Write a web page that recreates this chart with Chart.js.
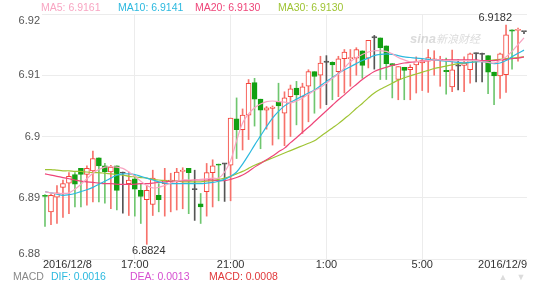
<!DOCTYPE html>
<html>
<head>
<meta charset="utf-8">
<script src="https://cdn.jsdelivr.net/npm/chart.js@4.4.0/dist/chart.umd.min.js"></script>
<style>
  html, body { margin: 0; padding: 0; background: #fff; }
  #wrap { position: relative; width: 550px; height: 284px; }
</style>
</head>
<body>
<div id="wrap"><canvas id="klineCanvas"></canvas></div>
<script>
// ==================== USD/CNY 15min K-line, 2016/12/8 -> 2016/12/9 ====================
const opens = [
    6.8904, 6.8877, 6.8901, 6.8917, 6.8924, 6.8938, 6.8948, 6.8938, 6.8944, 6.8965,
    6.8952, 6.8942, 6.8952, 6.8940, 6.8923, 6.8931, 6.8912, 6.8897, 6.8889, 6.8904,
    6.8923, 6.8927, 6.8926, 6.8943, 6.8948, 6.8913, 6.8890, 6.8910, 6.8941, 6.8955,
    6.8955, 6.8953, 6.9029, 6.9011, 6.9035, 6.9088, 6.9061, 6.9043, 6.9046, 6.9056,
    6.9038, 6.9065, 6.9079, 6.9065, 6.9082, 6.9106, 6.9100, 6.9121, 6.9121, 6.9106,
    6.9127, 6.9127, 6.9128, 6.9140, 6.9128, 6.9161, 6.9161, 6.9148, 6.9119, 6.9093,
    6.9113, 6.9109, 6.9117, 6.9120, 6.9123, 6.9125, 6.9124, 6.9107, 6.9081, 6.9115,
    6.9116, 6.9109, 6.9135, 6.9134, 6.9132, 6.9105, 6.9099, 6.9101, 6.9174, 6.9173, 6.9171
];
const highs = [
    6.8905, 6.8906, 6.8920, 6.8929, 6.8941, 6.8941, 6.8948, 6.8952, 6.8976, 6.8965,
    6.8956, 6.8953, 6.8952, 6.8942, 6.8942, 6.8937, 6.8922, 6.8920, 6.8945, 6.8923,
    6.8948, 6.8940, 6.8948, 6.8949, 6.8948, 6.8945, 6.8907, 6.8956, 6.8962, 6.8955,
    6.8956, 6.9030, 6.9063, 6.9045, 6.9093, 6.9095, 6.9061, 6.9049, 6.9050, 6.9087,
    6.9073, 6.9084, 6.9090, 6.9087, 6.9109, 6.9106, 6.9131, 6.9132, 6.9122, 6.9131,
    6.9142, 6.9142, 6.9145, 6.9140, 6.9157, 6.9165, 6.9161, 6.9148, 6.9119, 6.9114,
    6.9113, 6.9117, 6.9130, 6.9127, 6.9142, 6.9140, 6.9131, 6.9128, 6.9141, 6.9125,
    6.9130, 6.9136, 6.9136, 6.9136, 6.9132, 6.9105, 6.9136, 6.9182, 6.9174, 6.9177, 6.9171
];
const lows = [
    6.8853, 6.8856, 6.8858, 6.8868, 6.8874, 6.8885, 6.8885, 6.8888, 6.8893, 6.8893,
    6.8891, 6.8882, 6.8880, 6.8875, 6.8871, 6.8870, 6.8858, 6.8824, 6.8871, 6.8877,
    6.8870, 6.8877, 6.8880, 6.8882, 6.8874, 6.8863, 6.8858, 6.8870, 6.8885, 6.8895,
    6.8894, 6.8895, 6.8964, 6.8978, 6.8995, 6.9017, 6.8980, 6.9012, 6.8986, 6.8996,
    6.8985, 6.9000, 6.9019, 6.9005, 6.9024, 6.9038, 6.9046, 6.9052, 6.9060, 6.9065,
    6.9071, 6.9082, 6.9100, 6.9095, 6.9112, 6.9110, 6.9093, 6.9093, 6.9063, 6.9060,
    6.9060, 6.9060, 6.9071, 6.9075, 6.9072, 6.9100, 6.9082, 6.9069, 6.9073, 6.9076,
    6.9073, 6.9087, 6.9089, 6.9089, 6.9070, 6.9052, 6.9062, 6.9072, 6.9110, 6.9123, 6.9168
];
const closes = [
    6.8902, 6.8904, 6.8908, 6.8923, 6.8935, 6.8922, 6.8938, 6.8948, 6.8964, 6.8952,
    6.8942, 6.8950, 6.8912, 6.8940, 6.8929, 6.8914, 6.8902, 6.8912, 6.8932, 6.8897,
    6.8929, 6.8929, 6.8942, 6.8945, 6.8941, 6.8913, 6.8885, 6.8941, 6.8952, 6.8953,
    6.8955, 6.9030, 6.9011, 6.9035, 6.9087, 6.9061, 6.9043, 6.9047, 6.9048, 6.9050,
    6.9063, 6.9078, 6.9068, 6.9081, 6.9106, 6.9098, 6.9120, 6.9121, 6.9117, 6.9127,
    6.9138, 6.9129, 6.9142, 6.9116, 6.9157, 6.9161, 6.9145, 6.9119, 6.9116, 6.9114,
    6.9108, 6.9113, 6.9123, 6.9124, 6.9129, 6.9127, 6.9126, 6.9106, 6.9109, 6.9115,
    6.9120, 6.9135, 6.9135, 6.9134, 6.9105, 6.9099, 6.9135, 6.9166, 6.9172, 6.9175, 6.9171
];

// moving averages as drawn on the chart
const ma5 = [
    6.8910, 6.8908, 6.8907, 6.8907, 6.8908, 6.8914, 6.8922, 6.8931, 6.8940, 6.8946,
    6.8950, 6.8951, 6.8950, 6.8948, 6.8942, 6.8935, 6.8927, 6.8920, 6.8916, 6.8917,
    6.8920, 6.8924, 6.8927, 6.8929, 6.8929, 6.8929, 6.8930, 6.8931, 6.8932, 6.8932,
    6.8942, 6.8961, 6.8993, 6.9022, 6.9037, 6.9047, 6.9053, 6.9057, 6.9058, 6.9057,
    6.9056, 6.9055, 6.9058, 6.9063, 6.9069, 6.9075, 6.9080, 6.9087, 6.9095, 6.9102,
    6.9112, 6.9122, 6.9129, 6.9134, 6.9138, 6.9140, 6.9140, 6.9139, 6.9135, 6.9129,
    6.9125, 6.9122, 6.9122, 6.9123, 6.9124, 6.9125, 6.9125, 6.9124, 6.9124, 6.9124,
    6.9124, 6.9124, 6.9124, 6.9122, 6.9121, 6.9120, 6.9124, 6.9130, 6.9139, 6.9150, 6.9161
];
const ma10 = [
    6.8910, 6.8908, 6.8906, 6.8904, 6.8905, 6.8907, 6.8910, 6.8913, 6.8917, 6.8922,
    6.8927, 6.8932, 6.8937, 6.8939, 6.8939, 6.8938, 6.8935, 6.8932, 6.8929, 6.8926,
    6.8924, 6.8923, 6.8923, 6.8923, 6.8923, 6.8923, 6.8923, 6.8924, 6.8925, 6.8927,
    6.8930, 6.8935, 6.8942, 6.8955, 6.8970, 6.8986, 6.9001, 6.9016, 6.9030, 6.9041,
    6.9050, 6.9056, 6.9061, 6.9066, 6.9071, 6.9076, 6.9083, 6.9090, 6.9096, 6.9103,
    6.9109, 6.9114, 6.9119, 6.9124, 6.9128, 6.9132, 6.9134, 6.9135, 6.9134, 6.9132,
    6.9130, 6.9129, 6.9128, 6.9127, 6.9126, 6.9125, 6.9124, 6.9123, 6.9122, 6.9121,
    6.9120, 6.9121, 6.9122, 6.9122, 6.9121, 6.9119, 6.9120, 6.9124, 6.9130, 6.9136, 6.9141
];
const ma20 = [
    6.8939, 6.8937, 6.8935, 6.8933, 6.8931, 6.8929, 6.8927, 6.8926, 6.8925, 6.8924,
    6.8923, 6.8923, 6.8922, 6.8922, 6.8922, 6.8922, 6.8923, 6.8923, 6.8924, 6.8925,
    6.8926, 6.8927, 6.8927, 6.8928, 6.8928, 6.8929, 6.8929, 6.8929, 6.8929, 6.8928,
    6.8928, 6.8930, 6.8933, 6.8937, 6.8943, 6.8950, 6.8956, 6.8962, 6.8968, 6.8975,
    6.8981, 6.8990, 6.8998, 6.9007, 6.9015, 6.9024, 6.9033, 6.9042, 6.9051, 6.9060,
    6.9068, 6.9077, 6.9085, 6.9093, 6.9100, 6.9106, 6.9110, 6.9113, 6.9116, 6.9118,
    6.9120, 6.9121, 6.9122, 6.9123, 6.9124, 6.9125, 6.9125, 6.9125, 6.9125, 6.9125,
    6.9125, 6.9125, 6.9125, 6.9124, 6.9124, 6.9124, 6.9125, 6.9126, 6.9127, 6.9128, 6.9130
];
const ma30 = [
    6.8946, 6.8946, 6.8945, 6.8944, 6.8944, 6.8943, 6.8943, 6.8942, 6.8941, 6.8941,
    6.8940, 6.8939, 6.8938, 6.8937, 6.8935, 6.8934, 6.8933, 6.8932, 6.8930, 6.8929,
    6.8928, 6.8927, 6.8927, 6.8926, 6.8926, 6.8926, 6.8926, 6.8927, 6.8928, 6.8930,
    6.8932, 6.8935, 6.8939, 6.8943, 6.8948, 6.8953, 6.8957, 6.8961, 6.8965, 6.8969,
    6.8973, 6.8977, 6.8981, 6.8985, 6.8989, 6.8993, 6.9000, 6.9007, 6.9014, 6.9021,
    6.9029, 6.9037, 6.9046, 6.9054, 6.9063, 6.9071, 6.9077, 6.9082, 6.9087, 6.9092,
    6.9096, 6.9099, 6.9102, 6.9105, 6.9108, 6.9111, 6.9113, 6.9115, 6.9117, 6.9119,
    6.9120, 6.9121, 6.9122, 6.9123, 6.9124, 6.9125, 6.9126, 6.9127, 6.9128, 6.9129, 6.9130
];

// axis labels
const xTickIndex = [0, 15, 31, 47, 63, 80];
const xTickText = ['2016/12/8', '17:00', '21:00', '1:00', '5:00', '2016/12/9'];
const yTickValues = [6.92, 6.91, 6.90, 6.89, 6.88];
const yTickText = ['6.92', '6.91', '6.9', '6.89', '6.88'];
const macdText = ['DIF: 0.0016', 'DEA: 0.0013', 'MACD: 0.0008'];

const UP = '#f4433a', UP_WICK = '#f7726b';
const DOWN = '#12a012', DOWN_WICK = '#6fc66f';
const FLAT = '#555555';
const FONT = '"Liberation Sans", Arial, sans-serif';

const MA_LINES = [
    { name: 'MA5', data: ma5, color: '#f8a5c2' },
    { name: 'MA10', data: ma10, color: '#2cb9df' },
    { name: 'MA20', data: ma20, color: '#ee4579' },
    { name: 'MA30', data: ma30, color: '#9fc434' }
];

// x labels: one 15-minute slot per bar, starting 13:15
const labels = closes.map((_, i) => {
    const m = (13 * 60 + 15 + i * 15) % (24 * 60);
    return Math.floor(m / 60) + ':' + String(m % 60).padStart(2, '0');
});
const dir = closes.map((c, i) => c > opens[i] ? 1 : (c < opens[i] ? -1 : 0));

const overlayPlugin = {
    id: 'overlay',
    beforeDatasetsDraw(chart) {
        const ctx = chart.ctx;
        ctx.save();
        ctx.fillStyle = 'rgba(190,190,190,0.55)';
        ctx.font = 'italic bold 13px ' + FONT;
        ctx.textBaseline = 'middle';
        ctx.fillText('sina', 410, 39);
        ctx.font = 'italic 11px "Noto Sans CJK SC", sans-serif';
        ctx.fillText('新浪财经', 436, 39);
        ctx.restore();
    },
    afterDraw(chart) {
        const { ctx, chartArea: a, scales: { x, y } } = chart;
        ctx.save();
        ctx.textBaseline = 'middle';

        // MA legend
        ctx.font = '10.5px ' + FONT;
        const legendX = [41, 118, 195, 278];
        MA_LINES.forEach((m, k) => {
            ctx.fillStyle = m.color;
            ctx.textAlign = 'left';
            ctx.fillText(m.name + ': ' + m.data[m.data.length - 1].toFixed(4), legendX[k], 8);
        });

        // y labels (top and bottom kept inside the plot)
        ctx.font = '11px ' + FONT;
        ctx.fillStyle = '#555';
        ctx.textAlign = 'right';
        yTickValues.forEach((v, k) => {
            let py = y.getPixelForValue(v);
            if (k === 0) py += 7;
            if (k === yTickValues.length - 1) py -= 5;
            ctx.fillText(yTickText[k], a.left - 2, py);
        });

        // x labels
        ctx.fillStyle = '#333';
        xTickIndex.forEach((idx, k) => {
            let px = x.getPixelForValue(idx);
            if (k === 0) { ctx.textAlign = 'left'; px = a.left + 1; }
            else if (k === xTickIndex.length - 1) { ctx.textAlign = 'right'; px = a.right; }
            else ctx.textAlign = 'center';
            ctx.fillText(xTickText[k], px, 265);
        });

        // max / min marks
        const hi = highs.indexOf(Math.max(...highs));
        const lo = lows.indexOf(Math.min(...lows));
        ctx.fillStyle = '#333';
        ctx.textAlign = 'right';
        ctx.fillText(highs[hi].toFixed(4), x.getPixelForValue(hi) + 6, y.getPixelForValue(highs[hi]) - 7);
        ctx.textAlign = 'center';
        ctx.fillText(lows[lo].toFixed(4), x.getPixelForValue(lo) + 2, y.getPixelForValue(lows[lo]) + 7);

        // MACD header row
        ctx.textAlign = 'left';
        ctx.font = '10.5px ' + FONT;
        ctx.fillStyle = '#888';
        ctx.fillText('MACD', 13, 277);
        const macdColors = ['#2cb9df', '#d64fd0', '#e0383a'];
        const macdX = [51, 130, 209];
        macdText.forEach((t, k) => {
            ctx.fillStyle = macdColors[k];
            ctx.fillText(t, macdX[k], 277);
        });
        ctx.fillStyle = '#dcdcdc';
        ctx.font = '9px ' + FONT;
        ctx.textAlign = 'center';
        ctx.fillText('\u25B2', 503, 278);
        ctx.fillText('\u25BC', 521, 278);
        ctx.restore();
    }
};

const ctx = document.getElementById('klineCanvas').getContext('2d');
window.klineChart = new Chart(ctx, {
    type: 'bar',
    data: {
        labels: labels,
        datasets: [
            ...MA_LINES.map(m => ({
                type: 'line',
                label: m.name,
                data: m.data,
                borderColor: m.color,
                borderWidth: 1.2,
                pointRadius: 0,
                tension: 0.35,
                order: 0
            })),
            {
                label: 'body',
                data: opens.map((o, i) => [Math.min(o, closes[i]), Math.max(o, closes[i])]),
                backgroundColor: dir.map(d => d > 0 ? '#ffffff' : (d < 0 ? DOWN : FLAT)),
                borderColor: dir.map(d => d > 0 ? UP : (d < 0 ? DOWN : FLAT)),
                borderWidth: 1,
                borderSkipped: false,
                barThickness: 5,
                minBarLength: 1.2,
                grouped: false,
                order: 5
            },
            {
                label: 'wick',
                data: lows.map((l, i) => [l, highs[i]]),
                backgroundColor: dir.map(d => d > 0 ? UP_WICK : (d < 0 ? DOWN_WICK : FLAT)),
                borderWidth: 0,
                barThickness: 1,
                grouped: false,
                order: 6
            }
        ]
    },
    options: {
        responsive: true,
        maintainAspectRatio: false,
        animation: false,
        layout: { padding: { left: 42, right: 23, top: 14, bottom: 25 } },
        plugins: { legend: { display: false }, tooltip: { enabled: false } },
        scales: {
            x: {
                offset: true,
                ticks: { display: false, autoSkip: false },
                border: { display: false },
                grid: {
                    offset: false,
                    drawTicks: false,
                    color: c => xTickIndex.slice(1, -1).includes(c.index) ? '#ececec' : 'rgba(0,0,0,0)'
                }
            },
            y: {
                min: 6.88,
                max: 6.92,
                ticks: { display: false, stepSize: 0.01 },
                border: { display: false },
                grid: { drawTicks: false, color: '#ececec' }
            }
        }
    },
    plugins: [overlayPlugin]
});
</script>
</body>
</html>
